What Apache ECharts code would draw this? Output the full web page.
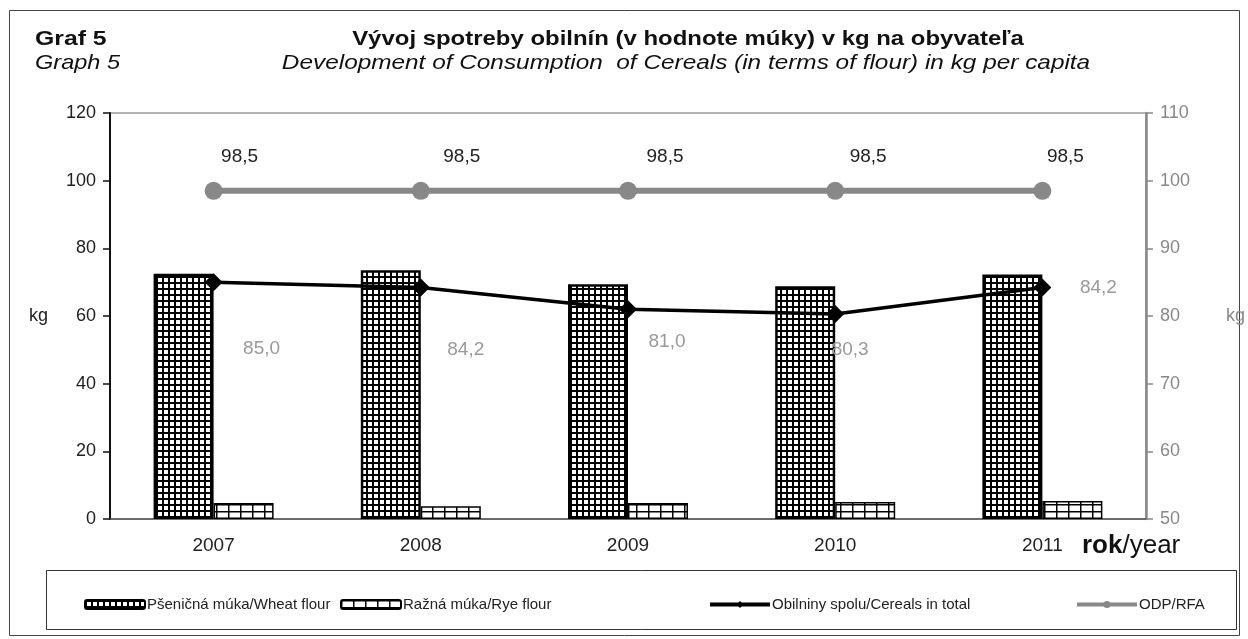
<!DOCTYPE html>
<html>
<head>
    <meta charset="utf-8">
    <title>Graf 5</title>
    <script src="https://cdn.jsdelivr.net/npm/echarts@6/dist/echarts.min.js"></script>
</head>
<style>
    body { margin: 0; background: #fff; }
    #main { width: 1248px; height: 639px; }
</style>
<body>
    <div id="main"></div>
    <script type="text/javascript">
        var years = ['2007', '2008', '2009', '2010', '2011'];
        var wheatFlour = [72.5, 73.5, 69.4, 68.8, 72.3];
        var ryeFlour = [4.7, 3.8, 4.7, 5.0, 5.3];
        var cerealsTotal = [85.0, 84.2, 81.0, 80.3, 84.2];
        var odpRfa = [98.5, 98.5, 98.5, 98.5, 98.5];
        var leftTicks = { min: 0, max: 120, interval: 20 };
        var rightTicks = { min: 50, max: 110, interval: 10 };

        // label offsets (px) from each point
        var cerealsLabelOffset = [[48, 67], [45, 62], [39, 33], [15, 36], [56, 0]];
        var odpLabelOffset = [[26, -34], [41, -34], [37, -34], [33, -34], [23, -34]];

        var font = "'Liberation Sans', Arial, sans-serif";

        // hatch patterns for the bars
        function gridPattern(w, h, lw) {
            var c = document.createElement('canvas');
            c.width = w; c.height = h;
            var ctx = c.getContext('2d');
            ctx.fillStyle = '#fff';
            ctx.fillRect(0, 0, w, h);
            ctx.fillStyle = '#000';
            ctx.fillRect(0, 0, w, lw);
            ctx.fillRect(0, 0, lw, h);
            return { image: c, repeat: 'repeat' };
        }
        var wheatPattern = gridPattern(6, 6, 2);
        var ryePattern = gridPattern(12, 7, 1.5);

        function comma(p) {
            return p.value.toFixed(1).replace('.', ',');
        }

        // heading text, slightly widened like the original
        function heading(text, x, y, align, sx, bold, italic) {
            return {
                type: 'text', x: x, y: y, scaleX: sx, silent: true,
                style: {
                    text: text, align: align, verticalAlign: 'middle',
                    font: (italic ? 'italic ' : '') + (bold ? 'bold ' : '') + '21px ' + font,
                    fill: '#111'
                }
            };
        }

        var myChart = echarts.init(document.getElementById('main'));

        var legendLine = [null, null, { color: '#000', width: 4 }, { color: '#888', width: 4 }];

        var option = {
            animation: false,
            backgroundColor: '#fff',
            legend: [
                { data: ['Pšeničná múka/Wheat flour'], left: 79 },
                { data: ['Ražná múka/Rye flour'], left: 335 },
                { data: ['Obilniny spolu/Cereals in total'], left: 703 },
                { data: ['ODP/RFA'], left: 1070 }
            ].map(function (l, i) {
                l.top = 592;
                l.itemWidth = 60;
                l.itemHeight = 9;
                l.itemGap = 2;
                l.textStyle = { fontFamily: font, fontSize: 15, color: '#222', padding: [0, 0, 0, -3] };
                if (legendLine[i]) {
                    l.lineStyle = legendLine[i];
                }
                return l;
            }),
            graphic: [
                { type: 'rect', shape: { x: 9.5, y: 10.5, width: 1230, height: 625 },
                  style: { fill: 'none', stroke: '#444', lineWidth: 1 }, silent: true },
                { type: 'rect', shape: { x: 46.5, y: 570.5, width: 1190, height: 59 },
                  style: { fill: 'none', stroke: '#333', lineWidth: 1 }, silent: true },
                heading('Graf 5', 35, 39, 'left', 1.18, true, false),
                heading('Graph 5', 35, 63, 'left', 1.12, false, true),
                heading('Vývoj spotreby obilnín (v hodnote múky) v kg na obyvateľa', 688, 39, 'center', 1.14, true, false),
                heading('Development of Consumption  of Cereals (in terms of flour) in kg per capita', 686, 63, 'center', 1.16, false, true),
                { type: 'text', left: 1082, top: 533,
                  style: {
                      text: '{a|rok}{b|/year}',
                      rich: {
                          a: { fontFamily: font, fontSize: 26, fontWeight: 'bold', fill: '#111' },
                          b: { fontFamily: font, fontSize: 26, fill: '#111' }
                      }
                  } }
            ],
            grid: {
                left: 110, right: 100, top: 113, bottom: 120,
                show: true, borderColor: '#999', borderWidth: 1.5
            },
            xAxis: {
                type: 'category',
                data: years,
                axisLine: { lineStyle: { color: '#555', width: 1.5 } },
                axisTick: { show: false },
                axisLabel: { fontFamily: font, fontSize: 19, color: '#222', margin: 17 }
            },
            yAxis: [
                {
                    type: 'value', min: leftTicks.min, max: leftTicks.max, interval: leftTicks.interval,
                    name: 'kg', nameLocation: 'middle', nameGap: 62, nameRotate: 0,
                    nameTextStyle: { fontFamily: font, fontSize: 18, color: '#222' },
                    axisLine: { show: true, lineStyle: { color: '#111', width: 2 } },
                    axisTick: { show: true, length: 7, lineStyle: { color: '#111', width: 1.5 } },
                    axisLabel: { fontFamily: font, fontSize: 18, color: '#222', margin: 14 },
                    splitLine: { show: false }
                },
                {
                    type: 'value', min: rightTicks.min, max: rightTicks.max, interval: rightTicks.interval,
                    name: 'kg', nameLocation: 'middle', nameGap: 80, nameRotate: 0,
                    nameTextStyle: { fontFamily: font, fontSize: 18, color: '#888' },
                    axisLine: { show: true, lineStyle: { color: '#888', width: 2.5 } },
                    axisTick: { show: true, length: 7, lineStyle: { color: '#888', width: 1.5 } },
                    axisLabel: { fontFamily: font, fontSize: 18, color: '#888', margin: 14 },
                    splitLine: { show: false }
                }
            ],
            series: [
                {
                    name: 'Pšeničná múka/Wheat flour',
                    type: 'bar',
                    data: wheatFlour,
                    barWidth: 60,
                    barGap: '0%',
                    itemStyle: { color: wheatPattern, borderColor: '#000', borderWidth: 2.5 }
                },
                {
                    name: 'Ražná múka/Rye flour',
                    type: 'bar',
                    data: ryeFlour,
                    barWidth: 60,
                    itemStyle: { color: ryePattern, borderColor: '#000', borderWidth: 1.5 }
                },
                {
                    name: 'Obilniny spolu/Cereals in total',
                    type: 'line',
                    yAxisIndex: 1,
                    z: 5,
                    data: cerealsTotal.map(function (v, i) {
                        return { value: v, label: { offset: cerealsLabelOffset[i] } };
                    }),
                    symbol: 'diamond',
                    symbolSize: 18,
                    lineStyle: { color: '#000', width: 3.5 },
                    itemStyle: { color: '#000' },
                    label: {
                        show: true, position: 'inside', formatter: comma,
                        fontFamily: font, fontSize: 19, color: '#999'
                    }
                },
                {
                    name: 'ODP/RFA',
                    type: 'line',
                    yAxisIndex: 1,
                    z: 4,
                    data: odpRfa.map(function (v, i) {
                        return { value: v, label: { offset: odpLabelOffset[i] } };
                    }),
                    symbol: 'circle',
                    symbolSize: 18,
                    lineStyle: { color: '#888', width: 6 },
                    itemStyle: { color: '#888' },
                    label: {
                        show: true, position: 'inside', formatter: comma,
                        fontFamily: font, fontSize: 19, color: '#222'
                    }
                }
            ]
        };

        myChart.setOption(option);
    </script>
</body>
</html>
